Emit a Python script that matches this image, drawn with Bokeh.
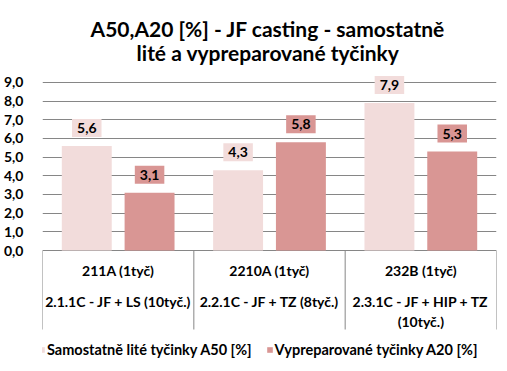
import math
from bokeh.plotting import figure
from bokeh.models import (ColumnDataSource, Range1d, FixedTicker, Label, Legend, LegendItem)
from bokeh.transform import dodge
from bokeh.embed import file_html
from bokeh.resources import INLINE

# ---------------- data ----------------
categories = ["211A (1tyč)", "2210A (1tyč)", "232B (1tyč)"]
category_line2 = ["2.1.1C - JF + LS (10tyč.)", "2.2.1C - JF + TZ (8tyč.)", "2.3.1C - JF + HIP + TZ"]
category_line3 = ["", "", "(10tyč.)"]
a50 = [5.6, 4.3, 7.9]
a20 = [3.1, 5.8, 5.3]
series_names = ["Samostatně lité tyčinky A50 [%]", "Vypreparované tyčinky A20 [%]"]
y_ticks = [0, 1, 2, 3, 4, 5, 6, 7, 8, 9]
y_tick_labels = ["0,0", "1,0", "2,0", "3,0", "4,0", "5,0", "6,0", "7,0", "8,0", "9,0"]
title_lines = ["A50,A20 [%] - JF casting - samostatně", "lité a vypreparované tyčinky"]

# ---------------- style ----------------
FONT = "Lato"
LIGHT = "#F2DCDB"
DARK = "#D99694"
GRID = "#868686"

def fmt(v):
    return f"{v:.1f}".replace(".", ",")

n = len(categories)
centers = [i + 0.5 for i in range(n)]      # category i occupies [i, i+1]
boundaries = list(range(n + 1))

# The frame spans the full height: room above 9 for the title and below 0
# for the category table and the legend (value axis runs 0..9 in the middle).
p = figure(width=507, height=371,
           x_range=Range1d(0, n), y_range=Range1d(-6.48, 13.39),
           x_axis_location=None,
           output_backend="svg", toolbar_location=None,
           min_border_left=41, min_border_right=11,
           min_border_top=0, min_border_bottom=0)
p.outline_line_color = None
p.background_fill_color = "white"
p.border_fill_color = "white"
p.xgrid.grid_line_color = None
p.ygrid.grid_line_color = GRID
p.ygrid.ticker = FixedTicker(ticks=y_ticks)

# y axis
p.yaxis.ticker = FixedTicker(ticks=y_ticks)
p.yaxis.major_label_overrides = {t: l for t, l in zip(y_ticks, y_tick_labels)}
p.yaxis.axis_line_color = None
p.yaxis.major_tick_line_color = None
p.yaxis.minor_tick_line_color = None
p.yaxis.major_label_standoff = 13
p.yaxis.major_label_text_font = FONT
p.yaxis.major_label_text_font_style = "bold"
p.yaxis.major_label_text_font_size = "14px"
p.yaxis.major_label_text_color = "black"

# category separators hanging down from the 0 line
p.ray(x=boundaries, y=[0] * len(boundaries), length=79, length_units="screen",
      angle=-math.pi / 2, line_color=GRID, line_width=1)

src = ColumnDataSource(dict(x=centers, a50=a50, a20=a20))
off = 0.2075
r1 = p.vbar(x=dodge("x", -off), top="a50", width=0.33,
            source=src, fill_color=LIGHT, line_color=None)
r2 = p.vbar(x=dodge("x", off), top="a20", width=0.33,
            source=src, fill_color=DARK, line_color=None)

# data labels
for c, v1, v2 in zip(centers, a50, a20):
    for v, d, col in ((v1, -off, LIGHT), (v2, off, DARK)):
        p.add_layout(Label(x=c + d, y=v, y_offset=9, text=fmt(v),
                           text_align="center", text_baseline="bottom",
                           text_font=FONT, text_font_style="bold",
                           text_font_size="14px", text_color="black",
                           background_fill_color=col, padding=(5, 4)))

# category table text
for c, l1, l2, l3 in zip(centers, categories, category_line2, category_line3):
    for txt, yy in ((l1, 101), (l2, 70), (l3, 50)):
        if txt:
            p.add_layout(Label(x=c, y=yy, y_units="screen", text=txt,
                               text_align="center", text_baseline="middle",
                               text_font=FONT, text_font_style="bold",
                               text_font_size="14px", text_color="black"))

# title
for txt, yy in zip(title_lines, (343, 319)):
    p.add_layout(Label(x=225.5, y=yy, x_units="screen", y_units="screen", text=txt,
                       text_align="center", text_baseline="alphabetic",
                       text_font=FONT, text_font_style="bold",
                       text_font_size="21px", text_color="black"))

legend = Legend(items=[LegendItem(label=series_names[0], renderers=[r1]),
                       LegendItem(label=series_names[1], renderers=[r2])],
                orientation="horizontal", location=(-4, 13),
                glyph_width=7, glyph_height=7, label_height=15,
                label_standoff=2, spacing=14, padding=0, margin=0,
                label_text_font=FONT, label_text_font_style="bold",
                label_text_font_size="14.5px", label_text_color="black",
                background_fill_alpha=0, border_line_color=None)
p.add_layout(legend)

open("out.html", "w").write(file_html(p, INLINE))
